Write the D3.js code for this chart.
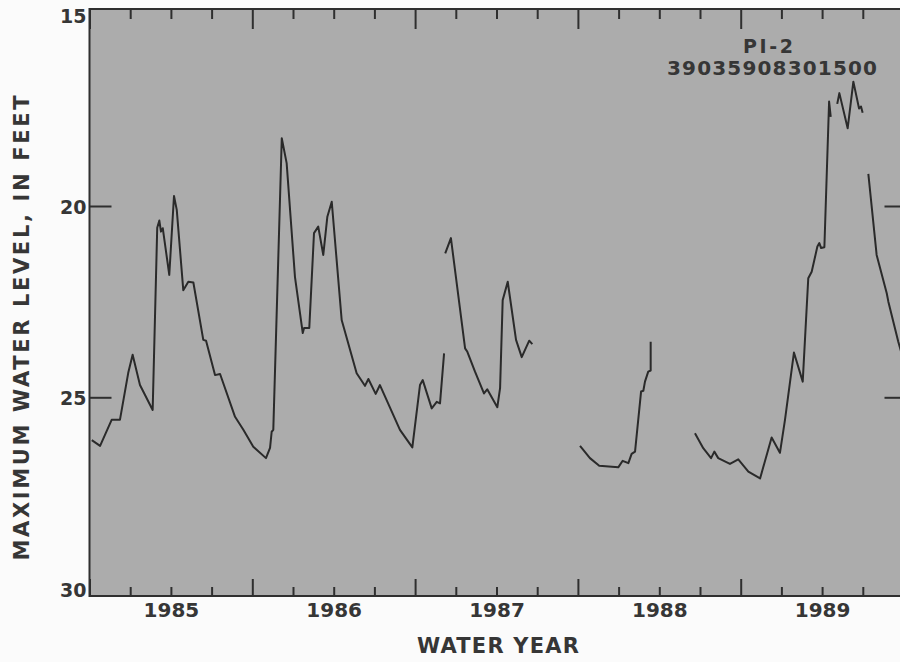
<!DOCTYPE html>
<html>
<head>
<meta charset="utf-8">
<script src="https://cdnjs.cloudflare.com/ajax/libs/d3/7.8.5/d3.min.js"></script>
<style>
  body { margin: 0; background: #fbfbfb; }
  text { font-family: "DejaVu Sans", "Liberation Sans", sans-serif; font-weight: bold; fill: #363636; }
</style>
</head>
<body>
<div id="chart"></div>
<script>
// Time is a calendar decimal year; a water year starts Oct 1 (x.75).
// Gaps in the record are drawn as separate pieces.
var timesA = [1984.764, 1984.815, 1984.886, 1984.937, 1984.988, 1985.015, 1985.060, 1985.138, 1985.166, 1985.179,
  1985.189, 1985.200, 1985.240, 1985.269, 1985.286, 1985.326, 1985.357, 1985.388, 1985.449, 1985.466,
  1985.521, 1985.552, 1985.644, 1985.695, 1985.756, 1985.834, 1985.859, 1985.869, 1985.879, 1985.931,
  1985.961, 1986.012, 1986.060, 1986.068, 1986.100, 1986.129, 1986.155, 1986.186, 1986.211, 1986.238,
  1986.299, 1986.391, 1986.442, 1986.463, 1986.508, 1986.534, 1986.657, 1986.733, 1986.780, 1986.797,
  1986.852, 1986.883, 1986.903, 1986.928];
var levelsA = [26.12, 26.27, 25.59, 25.59, 24.36, 23.89, 24.68, 25.33, 20.57, 20.38,
  20.67, 20.58, 21.80, 19.74, 20.10, 22.20, 21.98, 22.00, 23.50, 23.52,
  24.42, 24.39, 25.51, 25.85, 26.29, 26.59, 26.32, 25.90, 25.85, 18.23,
  18.88, 21.85, 23.32, 23.19, 23.19, 20.71, 20.54, 21.28, 20.28, 19.89,
  22.98, 24.37, 24.70, 24.52, 24.91, 24.68, 25.85, 26.31, 24.68, 24.55,
  25.29, 25.12, 25.16, 23.85];

var timesB = [1986.935, 1986.970, 1987.057, 1987.071, 1987.118, 1987.173, 1987.193, 1987.255, 1987.272, 1987.288,
  1987.319, 1987.370, 1987.405, 1987.451, 1987.470];
var levelsB = [21.24, 20.84, 23.72, 23.81, 24.33, 24.90, 24.79, 25.26, 24.76, 22.46,
  21.98, 23.50, 23.95, 23.52, 23.61];

var timesC = [1987.763, 1987.824, 1987.881, 1987.998, 1988.025, 1988.060, 1988.080, 1988.101, 1988.138, 1988.152,
  1988.162, 1988.182, 1988.197, 1988.197];
var levelsC = [26.27, 26.59, 26.79, 26.83, 26.66, 26.72, 26.48, 26.42, 24.85, 24.83,
  24.59, 24.33, 24.30, 23.55];

var timesD = [1988.469, 1988.520, 1988.568, 1988.588, 1988.612, 1988.684, 1988.735, 1988.797, 1988.869, 1988.940,
  1988.991, 1989.022, 1989.077, 1989.131, 1989.165, 1989.186, 1989.221, 1989.233, 1989.244, 1989.264,
  1989.293, 1989.303];
var levelsD = [25.94, 26.33, 26.59, 26.42, 26.59, 26.74, 26.62, 26.94, 27.12, 26.05,
  26.45, 25.59, 23.83, 24.59, 21.89, 21.72, 21.06, 20.97, 21.10, 21.08,
  17.27, 17.67];

var timesE = [1989.343, 1989.356, 1989.407, 1989.442, 1989.477, 1989.489, 1989.499];
var levelsE = [17.33, 17.05, 17.97, 16.75, 17.45, 17.40, 17.56];

var timesF = [1989.534, 1989.585, 1989.647, 1989.657, 1989.718, 1989.736];
var levelsF = [19.16, 21.28, 22.28, 22.50, 23.55, 23.82];

var waterYears = [1985, 1986, 1987, 1988, 1989];
var levelTicks = [15, 20, 25, 30];
var sideTicks = [20, 25];
var wellName = 'PI-2';
var wellId = '39035908301500';

var width = 900, height = 662;
var plotTop = 9, plotBottom = 596;

var x = d3.scaleLinear().domain([1984.75, 1989.75]).range([89.5, 903.5]);
var y = d3.scaleLinear().domain([15, 30]).range([14.7, 588.6]);

var svg = d3.select('#chart').append('svg')
  .attr('width', width)
  .attr('height', height);

// grey plot field
svg.append('rect')
  .attr('x', x(1984.75))
  .attr('y', plotTop)
  .attr('width', x(1989.75) - x(1984.75))
  .attr('height', plotBottom - plotTop)
  .attr('fill', '#acacac')
  .attr('stroke', '#2f2f2f')
  .attr('stroke-width', 2);

svg.append('clipPath').attr('id', 'clip')
  .append('rect')
  .attr('x', x(1984.75)).attr('y', plotTop)
  .attr('width', x(1989.75) - x(1984.75)).attr('height', plotBottom - plotTop);

// quarter ticks, long ones at the start of each water year
var quarters = d3.range(1984.75, 1989.76, 0.25).map(function (d) { return +d.toFixed(2); });
var isYearStart = function (d) { return Math.abs(d % 1 - 0.75) < 0.01; };

var bottomAxis = svg.append('g')
  .attr('transform', 'translate(0,' + plotBottom + ')')
  .call(d3.axisBottom(x).tickValues(quarters).tickSizeInner(-9).tickSizeOuter(0).tickFormat(''));
bottomAxis.selectAll('.tick line').attr('y2', function (d) { return isYearStart(d) ? -17 : -9; });

var topAxis = svg.append('g')
  .attr('transform', 'translate(0,' + plotTop + ')')
  .call(d3.axisTop(x).tickValues(quarters).tickSizeInner(-10).tickSizeOuter(0).tickFormat(''));
topAxis.selectAll('.tick line').attr('y2', function (d) { return isYearStart(d) ? 20 : 10; });

// year labels sit under the middle of each water year
var yearAxis = svg.append('g')
  .attr('transform', 'translate(0,' + plotBottom + ')')
  .call(d3.axisBottom(x)
    .tickValues(waterYears.map(function (w) { return w + 0.25; }))
    .tickSize(0).tickPadding(6)
    .tickFormat(function (d) { return String(Math.floor(d + 0.25)); }));
yearAxis.selectAll('text')
  .style('font-size', '20px')
  .attr('dy', '0.74em');

var leftAxis = svg.append('g')
  .attr('transform', 'translate(' + x(1984.75) + ',0)')
  .call(d3.axisLeft(y).tickValues(levelTicks).tickSizeInner(-22).tickSizeOuter(0).tickPadding(3));
leftAxis.selectAll('.tick line').attr('x2', function (d) { return sideTicks.indexOf(d) >= 0 ? 22 : 0; });
leftAxis.selectAll('text')
  .style('font-size', '19px')
  .attr('dy', '0.4em');

var rightAxis = svg.append('g')
  .attr('transform', 'translate(' + x(1989.75) + ',0)')
  .call(d3.axisRight(y).tickValues(sideTicks).tickSizeInner(-19).tickSizeOuter(0).tickFormat(''));

svg.selectAll('.domain').remove();
svg.selectAll('.tick line').attr('stroke', '#2f2f2f').attr('stroke-width', 2);
svg.selectAll('.tick text').attr('fill', '#363636');

// record pieces
var line = d3.line()
  .x(function (d) { return x(d[0]); })
  .y(function (d) { return y(d[1]); });

var pieces = [
  d3.zip(timesA, levelsA),
  d3.zip(timesB, levelsB),
  d3.zip(timesC, levelsC),
  d3.zip(timesD, levelsD),
  d3.zip(timesE, levelsE),
  d3.zip(timesF, levelsF)
];

svg.append('g')
  .attr('clip-path', 'url(#clip)')
  .selectAll('path')
  .data(pieces)
  .enter()
  .append('path')
  .attr('d', line)
  .attr('fill', 'none')
  .attr('stroke', '#2a2a2a')
  .attr('stroke-width', 2)
  .attr('stroke-linejoin', 'round');

// well label
svg.append('text')
  .attr('x', 768).attr('y', 53)
  .attr('text-anchor', 'middle')
  .attr('textLength', 50).attr('lengthAdjust', 'spacing')
  .style('font-size', '19px')
  .text(wellName);

svg.append('text')
  .attr('x', 772).attr('y', 75)
  .attr('text-anchor', 'middle')
  .attr('textLength', 210).attr('lengthAdjust', 'spacing')
  .style('font-size', '20px')
  .text(wellId);

// axis titles
svg.append('text')
  .attr('transform', 'translate(29,328) rotate(-90)')
  .attr('text-anchor', 'middle')
  .attr('textLength', 465).attr('lengthAdjust', 'spacing')
  .style('font-size', '21px')
  .text('MAXIMUM WATER LEVEL, IN FEET');

svg.append('text')
  .attr('x', 498).attr('y', 653)
  .attr('text-anchor', 'middle')
  .attr('textLength', 162).attr('lengthAdjust', 'spacing')
  .style('font-size', '21px')
  .text('WATER YEAR');
</script>
</body>
</html>
